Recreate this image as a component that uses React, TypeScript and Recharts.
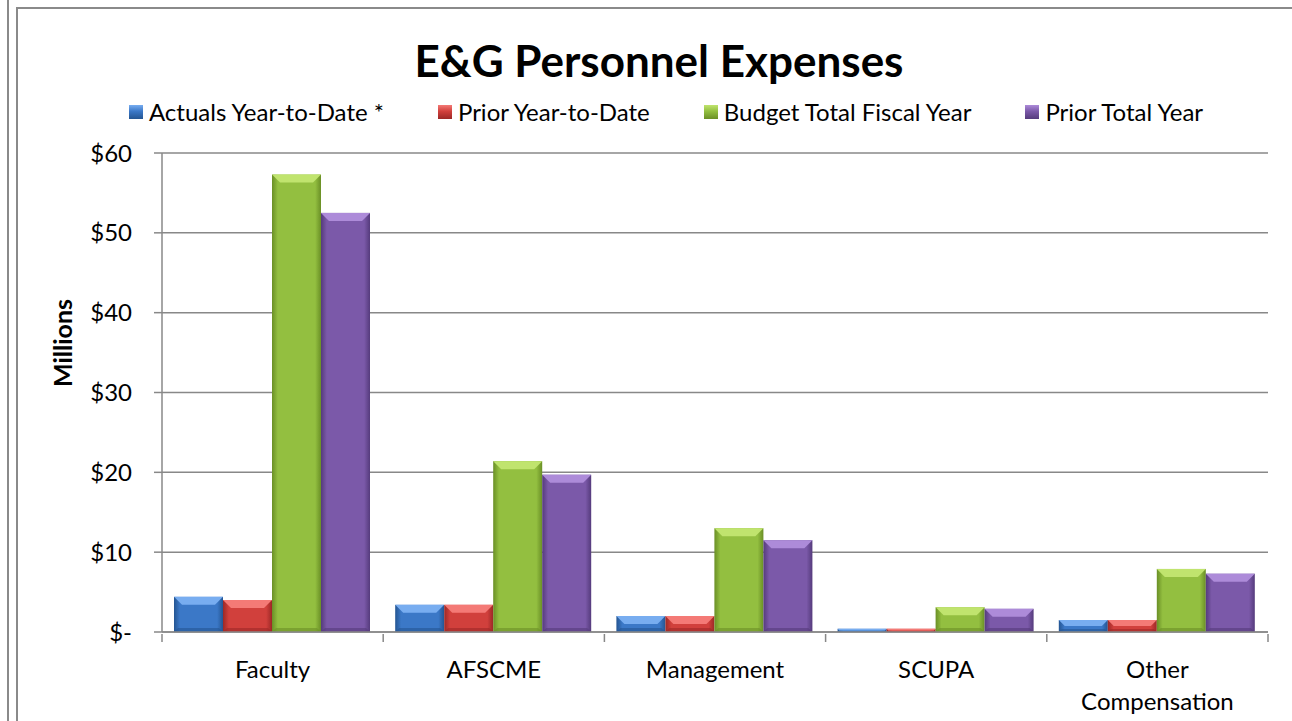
import React from "react";
import { BarChart, Bar, XAxis, YAxis, CartesianGrid } from "recharts";

// Categories and series values ($ millions)
const categories = ["Faculty", "AFSCME", "Management", "SCUPA", "Other Compensation"];
const actualsYTD = [4.4, 3.4, 2.0, 0.4, 1.5];
const priorYTD = [4.0, 3.4, 2.0, 0.4, 1.5];
const budgetTotal = [57.3, 21.4, 13.0, 3.1, 7.9];
const priorTotal = [52.5, 19.7, 11.5, 2.9, 7.3];
const yTicks = [0, 10, 20, 30, 40, 50, 60];

const seriesInfo = [
  { key: "actuals", name: "Actuals Year-to-Date *", base: "#3b78c7", light: "#78adf0", dark: "#245592" },
  { key: "priorYtd", name: "Prior Year-to-Date", base: "#d1403c", light: "#f47a76", dark: "#9c2826" },
  { key: "budget", name: "Budget Total Fiscal Year", base: "#93bf40", light: "#c0e46e", dark: "#6a8f26" },
  { key: "priorTotal", name: "Prior Total Year", base: "#7b59a9", light: "#ad8bd9", dark: "#553b7c" },
];

const data = categories.map((name, i) => ({
  name,
  actuals: actualsYTD[i],
  priorYtd: priorYTD[i],
  budget: budgetTotal[i],
  priorTotal: priorTotal[i],
}));

const FONT = "Lato, 'Open Sans', sans-serif";
const FS = 24;
const W = 1292;
const H = 721;
const PLOT_LEFT = 162;
const PLOT_RIGHT = 1268;
const BAND = (PLOT_RIGHT - PLOT_LEFT) / categories.length;

// bevelled bar like the old Office charts
const makeShape = (s: (typeof seriesInfo)[number]) => (props: any) => {
  const { x, y, width, height } = props;
  if (!height || height <= 0) return null;
  const b = Math.min(8, height / 2, width / 4);
  const gid = `g-${s.key}`;
  return (
    <g>
      <defs>
        <linearGradient id={gid} x1="0" y1="0" x2="1" y2="0">
          <stop offset="0%" stopColor={s.dark} />
          <stop offset="12%" stopColor={s.base} />
          <stop offset="88%" stopColor={s.base} />
          <stop offset="100%" stopColor={s.dark} />
        </linearGradient>
      </defs>
      <rect x={x} y={y} width={width} height={height} fill={`url(#${gid})`} />
      <polygon
        points={`${x},${y} ${x + width},${y} ${x + width - b},${y + b} ${x + b},${y + b}`}
        fill={s.light}
      />
      <polygon
        points={`${x},${y + height} ${x + width},${y + height} ${x + width - b / 2},${y + height - b / 2} ${x + b / 2},${y + height - b / 2}`}
        fill={s.dark}
        opacity={0.6}
      />
    </g>
  );
};

// x tick: label (wrapped on spaces for long names) + tick marks on category boundaries
const XTick = (props: any) => {
  const { x, y, payload, index } = props;
  const half = payload && payload.offset ? payload.offset : BAND / 2;
  const words = String(payload.value).split(" ");
  const axisY = y - 8;
  return (
    <g>
      <line x1={x - half} y1={axisY} x2={x - half} y2={axisY + 8} stroke="#888" strokeWidth={1.5} />
      {index === categories.length - 1 && (
        <line x1={x + half} y1={axisY} x2={x + half} y2={axisY + 8} stroke="#888" strokeWidth={1.5} />
      )}
      <text x={x} y={axisY + 44} textAnchor="middle" fontSize={FS} fontFamily={FONT} fill="#000">
        {words.map((l: string, i: number) => (
          <tspan key={i} x={x} dy={i === 0 ? 0 : 32}>
            {l}
          </tspan>
        ))}
      </text>
    </g>
  );
};

const LegendRow = () => (
  <div
    style={{
      position: "absolute",
      top: 97,
      left: 0,
      width: W,
      display: "flex",
      justifyContent: "center",
      gap: 54,
      fontFamily: FONT,
      fontSize: FS,
      lineHeight: "30px",
      color: "#000",
      paddingLeft: 40,
      boxSizing: "border-box",
    }}
  >
    {seriesInfo.map((s) => (
      <div key={s.key} style={{ display: "flex", alignItems: "center" }}>
        <span
          style={{
            display: "inline-block",
            width: 14,
            height: 14,
            marginRight: 6,
            background: `linear-gradient(180deg, ${s.light} 0%, ${s.base} 45%, ${s.dark} 100%)`,
          }}
        />
        <span>{s.name}</span>
      </div>
    ))}
  </div>
);

export default function App() {
  return (
    <div
      style={{
        position: "fixed",
        left: 0,
        top: 0,
        width: W,
        height: H,
        background: "#fff",
        overflow: "hidden",
      }}
    >
      {/* frame lines */}
      <div style={{ position: "absolute", left: 7, top: 0, width: 2, height: H, background: "#8a8a8a" }} />
      <div style={{ position: "absolute", left: 16, top: 7, width: 2, height: H - 7, background: "#8a8a8a" }} />
      <div style={{ position: "absolute", left: 16, top: 7, width: W - 16, height: 2, background: "#8a8a8a" }} />

      <div
        style={{
          position: "absolute",
          left: 0,
          width: W,
          top: 34,
          textAlign: "center",
          fontFamily: FONT,
          fontWeight: 700,
          fontSize: 44,
          lineHeight: "52px",
          color: "#000",
          paddingLeft: 26,
          boxSizing: "border-box",
        }}
      >
        E&amp;G Personnel Expenses
      </div>

      <LegendRow />

      <div
        style={{
          position: "absolute",
          left: 62,
          top: 343,
          transform: "translate(-50%, -50%) rotate(-90deg)",
          fontFamily: FONT,
          fontWeight: 700,
          fontSize: 25,
          color: "#000",
          whiteSpace: "nowrap",
        }}
      >
        Millions
      </div>

      <div style={{ position: "absolute", left: 0, top: 0 }}>
        <BarChart
          width={W}
          height={H}
          data={data}
          margin={{ top: 153, right: W - PLOT_RIGHT, bottom: 0, left: PLOT_LEFT - 110 }}
          barCategoryGap={12}
          barGap={0}
        >
          <CartesianGrid vertical={false} stroke="#888" strokeWidth={1.5} />
          <XAxis
            dataKey="name"
            height={89}
            axisLine={{ stroke: "#888", strokeWidth: 1.5 }}
            tickLine={false}
            tickSize={8}
            tick={<XTick />}
            interval={0}
          />
          <YAxis
            width={110}
            domain={[0, 60]}
            ticks={yTicks}
            tickFormatter={(v: number) => (v === 0 ? "$-" : `$${v}`)}
            axisLine={{ stroke: "#888", strokeWidth: 1.5 }}
            tickLine={{ stroke: "#888", strokeWidth: 1.5 }}
            tickSize={8}
            tickMargin={22}
            tick={{ fontSize: FS, fontFamily: FONT, fill: "#000" }}
          />
          {seriesInfo.map((s) => (
            <Bar
              key={s.key}
              dataKey={s.key}
              name={s.name}
              fill={s.base}
              shape={makeShape(s)}
              isAnimationActive={false}
            />
          ))}
        </BarChart>
      </div>
    </div>
  );
}
